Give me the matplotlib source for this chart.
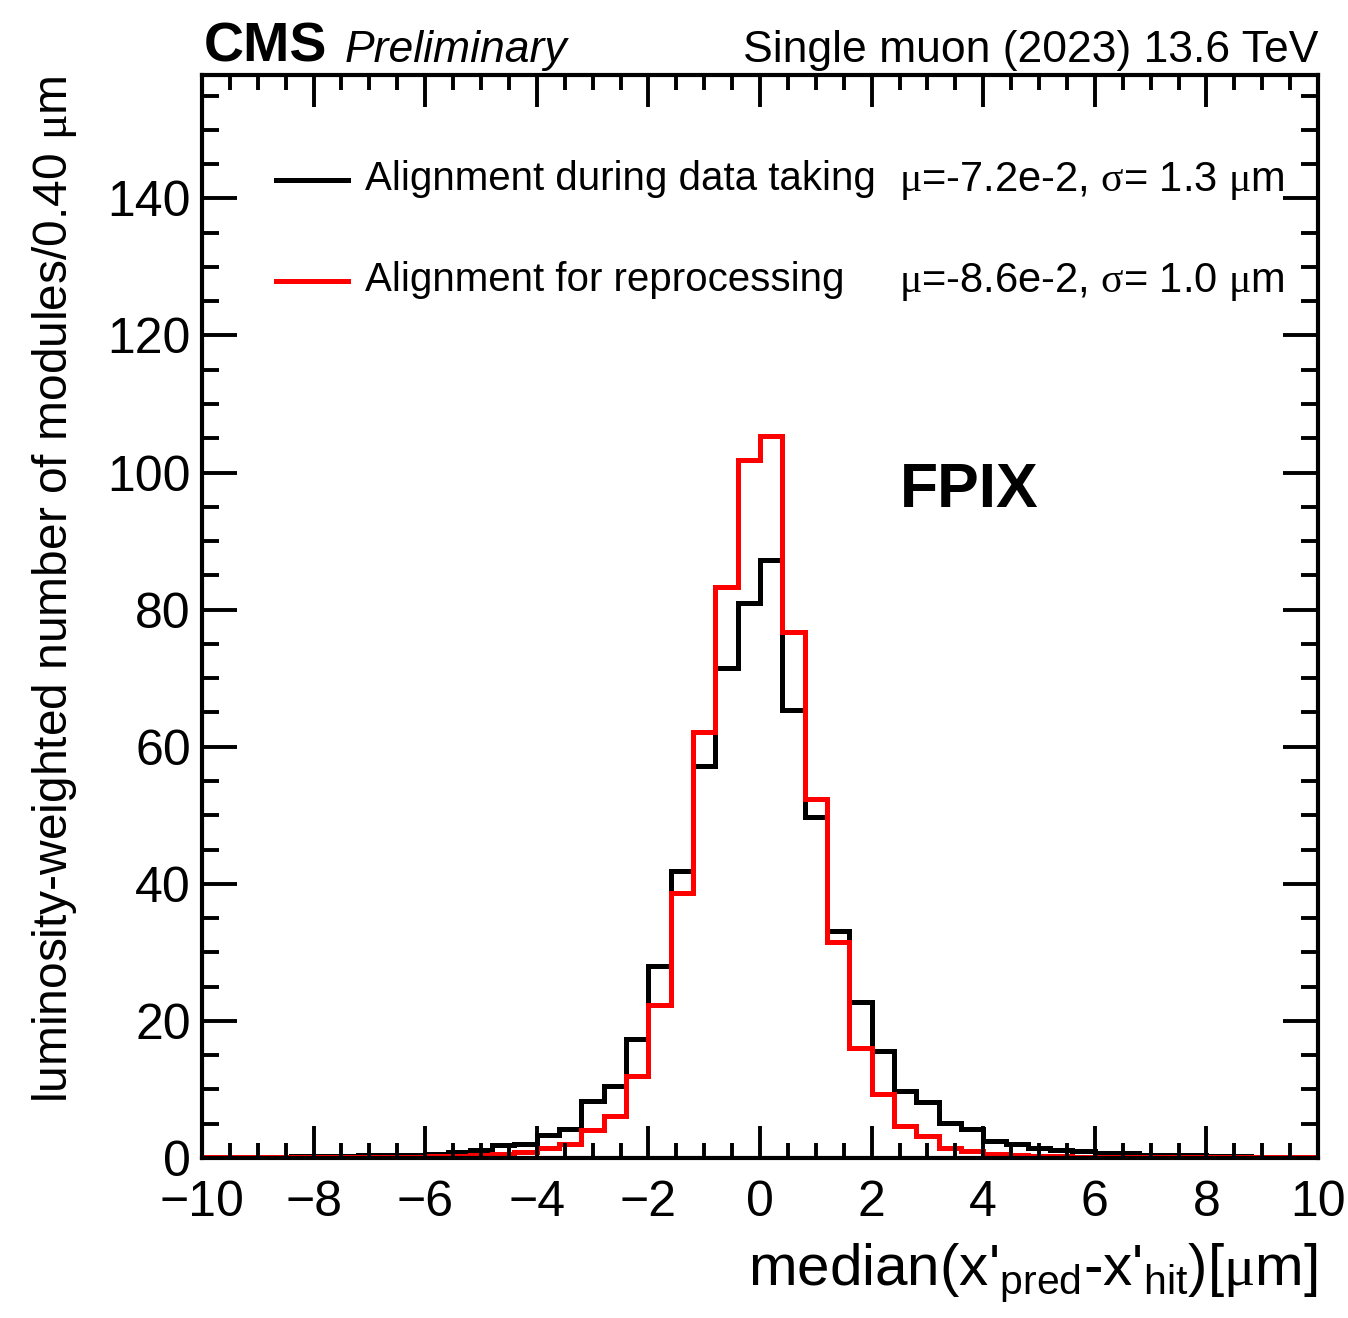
import numpy as np
import matplotlib
matplotlib.use("Agg")
import matplotlib.pyplot as plt
from matplotlib.lines import Line2D
from matplotlib.ticker import MultipleLocator

plt.rcParams['font.family'] = ['Liberation Sans', 'DejaVu Sans']
plt.rcParams['mathtext.fontset'] = 'custom'
plt.rcParams['mathtext.rm'] = 'Liberation Sans'
plt.rcParams['mathtext.it'] = 'Liberation Sans:italic'
plt.rcParams['mathtext.sf'] = 'Liberation Serif'  # greek letters in serif, like ROOT

# binning: 50 bins of 0.4 um between -10 and 10
x_lo, x_hi, n_bins = -10.0, 10.0, 50

# luminosity-weighted module counts per bin
during_data_taking = [
    0.2, 0.2, 0.2, 0.2, 0.3, 0.3, 0.3, 0.4, 0.4, 0.5,
    0.6, 0.9, 1.2, 1.9, 2.1, 3.3, 4.3, 8.3, 10.5, 17.3,
    28.0, 41.8, 57.2, 71.5, 80.9, 87.2, 65.4, 49.8, 33.1, 22.7,
    15.6, 9.8, 8.1, 5.1, 4.2, 2.5, 2.1, 1.4, 1.2, 1.0,
    0.8, 0.7, 0.5, 0.4, 0.4, 0.3, 0.3, 0.2, 0.2, 0.2,
]
for_reprocessing = [
    0.1, 0.1, 0.1, 0.1, 0.1, 0.1, 0.2, 0.2, 0.2, 0.2,
    0.3, 0.3, 0.4, 0.6, 0.9, 1.4, 2.0, 4.1, 6.1, 12.0,
    22.3, 38.7, 62.2, 83.3, 101.9, 105.3, 76.8, 52.4, 31.5, 16.1,
    9.3, 4.6, 3.2, 1.4, 1.0, 0.6, 0.4, 0.3, 0.3, 0.2,
    0.2, 0.2, 0.1, 0.1, 0.1, 0.1, 0.1, 0.1, 0.1, 0.1,
]
labels = ['Alignment during data taking', 'Alignment for reprocessing']
stats = [r'$\mathsf{\mu}$=-7.2e-2, $\mathsf{\sigma}$= 1.3 $\mathsf{\mu}$m',
         r'$\mathsf{\mu}$=-8.6e-2, $\mathsf{\sigma}$= 1.0 $\mathsf{\mu}$m']
colors = ['black', '#ff0000']

W, H = 1348, 1318
fig = plt.figure(figsize=(W / 100, H / 100), dpi=100)

def fx(px):
    return px / W

def fy(py):
    return 1 - py / H

ax = fig.add_axes([fx(202), fy(1158), fx(1318) - fx(202), fy(75) - fy(1158)])

edges = np.linspace(x_lo, x_hi, n_bins + 1)
ax.stairs(during_data_taking, edges, baseline=None, color=colors[0], lw=3.6)
ax.stairs(for_reprocessing, edges, baseline=None, color=colors[1], lw=3.6)

ax.set_xlim(x_lo, x_hi)
ax.set_ylim(0, 158)
ax.xaxis.set_major_locator(MultipleLocator(2))
ax.xaxis.set_minor_locator(MultipleLocator(0.5))
ax.yaxis.set_major_locator(MultipleLocator(20))
ax.yaxis.set_minor_locator(MultipleLocator(5))
for s in ax.spines.values():
    s.set_linewidth(3)
ax.tick_params(which='both', direction='in', top=True, right=True, width=2.8, labelsize=36)
ax.tick_params(axis='x', which='major', length=23, pad=16)
ax.tick_params(axis='x', which='minor', length=11)
ax.tick_params(axis='y', which='major', length=25, pad=8)
ax.tick_params(axis='y', which='minor', length=12)

# header
fig.text(fx(204), fy(62), 'CMS', fontsize=40, fontweight='bold', va='baseline')
fig.text(fx(345), fy(62), 'Preliminary', fontsize=32, style='italic', va='baseline')
fig.text(fx(1318), fy(62), 'Single muon (2023) 13.6 TeV', fontsize=32, ha='right', va='baseline')

# legend
for i, (lab, st, c) in enumerate(zip(labels, stats, colors)):
    yl = 180 + 101 * i
    fig.add_artist(Line2D([fx(276), fx(348)], [fy(yl), fy(yl)], color=c, lw=3.6))
    fig.text(fx(365), fy(yl + 10), lab, fontsize=29, va='baseline')
    fig.text(fx(1285), fy(yl + 11), st, fontsize=30, ha='right', va='baseline')

fig.text(fx(900), fy(507), 'FPIX', fontsize=45, fontweight='bold', va='baseline')

# axis titles
fig.text(fx(1318), fy(1285), r"median(x'$_{\mathrm{pred}}$-x'$_{\mathrm{hit}}$)[$\mathsf{\mu}$m]",
         fontsize=42, ha='right', va='baseline')
fig.text(fx(55), fy(75), r'luminosity-weighted number of modules/0.40 $\mathsf{\mu}$m',
         fontsize=34.5, rotation=90, ha='center', va='top')

fig.savefig('out.png', dpi=100)
